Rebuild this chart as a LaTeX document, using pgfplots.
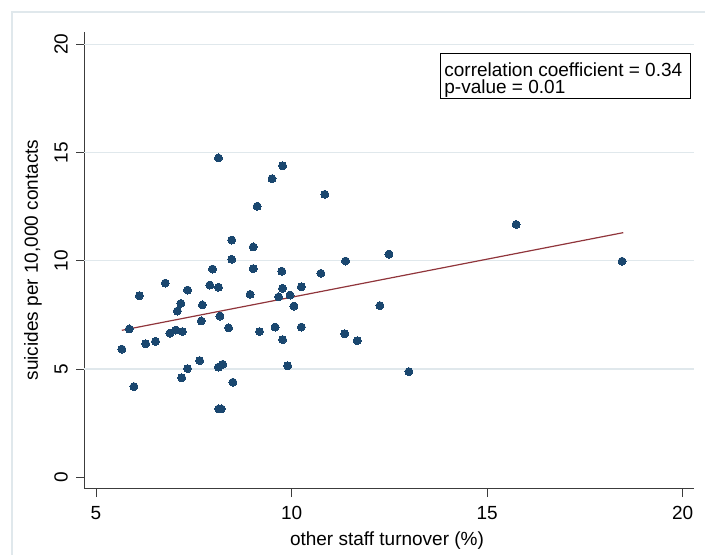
\documentclass[border=0pt]{standalone}
\usepackage{fontspec}
\setmainfont{Liberation Sans}
\usepackage{pgfplots}
\pgfplotsset{compat=1.18}
\definecolor{stnavy}{RGB}{26,71,111}
\definecolor{stmaroon}{RGB}{144,53,59}
\definecolor{stgrid}{RGB}{224,232,236}
\definecolor{staxis}{RGB}{60,60,60}
\begin{document}
\begin{tikzpicture}
\useasboundingbox (0,0) rectangle (352.5pt,277.5pt);
\draw[stgrid, line width=0.6pt] (6pt,0) -- (6pt,271.5pt) -- (352.5pt,271.5pt);
\begin{axis}[
  at={(42pt,33pt)}, anchor=south west,
  scale only axis, width=305pt, height=228.5pt,
  xmin=4.693, xmax=20.289, ymin=-0.540, ymax=20.568,
  axis x line*=bottom, axis y line*=left,
  axis line style={staxis, line width=0.5pt, -},
  xtick={5,10,15,20}, ytick={0,5,10,15,20},
  tick align=outside, major tick length=4pt,
  tick style={staxis, line width=0.5pt},
  extra y ticks={5,10,15,20}, extra y tick labels={},
  extra y tick style={ymajorgrids=true, major tick length=0pt},
  grid style={stgrid, line width=0.6pt},
  font=\fontsize{9.5pt}{11pt}\selectfont,
  /pgf/number format/assume math mode=true,
  xticklabel style={inner sep=0pt, anchor=north},
  yticklabel style={inner sep=0pt, rotate=90, anchor=south},
  xticklabel shift=4.35pt, yticklabel shift=3.85pt,
  xlabel={other staff turnover (\%)},
  ylabel={suicides per 10,000 contacts},
  xlabel style={at={(axis description cs:0.4967,-0.1135)}, anchor=center, inner sep=0pt},
  ylabel style={at={(axis description cs:-0.0836,0.501)}, anchor=center, rotate=0, inner sep=0pt},
  clip=false,
]
\addplot[only marks, mark=*, mark size=2.0pt, mark options={fill=stnavy, draw=stnavy, line width=0pt}] table {
x y
5.66 5.92
5.85 6.85
5.97 4.19
6.11 8.39
6.27 6.17
6.52 6.28
6.77 8.97
6.89 6.66
7.04 6.80
7.08 7.68
7.17 8.03
7.21 6.73
7.19 4.60
7.34 8.65
7.34 5.02
7.65 5.39
7.69 7.22
7.72 7.96
7.98 9.62
7.91 8.88
8.13 8.78
8.17 7.45
8.13 5.09
8.24 5.22
8.14 3.16
8.20 3.16
8.39 6.90
8.50 4.39
8.94 8.45
9.18 6.73
9.58 6.94
9.67 8.33
9.77 8.73
9.77 6.36
9.90 5.15
9.96 8.42
10.06 7.91
10.25 8.80
10.25 6.94
9.75 9.52
10.75 9.42
11.36 6.63
11.68 6.31
12.26 7.93
13.00 4.88
8.13 14.75
9.77 14.39
9.50 13.79
10.85 13.07
9.12 12.52
8.47 10.96
9.02 10.64
8.47 10.07
9.02 9.64
11.38 9.99
12.49 10.31
15.74 11.68
18.45 9.98
};
\addplot[stmaroon, line width=0.6pt] coordinates {(5.66,6.79) (18.48,11.30)};
\end{axis}
\draw[black, line width=0.5pt] (220.35pt,250.5pt) rectangle (345pt,228.25pt);
\node[anchor=base west, inner sep=0pt, font=\fontsize{9.5pt}{11pt}\selectfont] at (222pt,239.35pt) {correlation coefficient = 0.34};
\node[anchor=base west, inner sep=0pt, font=\fontsize{9.5pt}{11pt}\selectfont] at (222pt,230.65pt) {p-value = 0.01};
\end{tikzpicture}
\end{document}
